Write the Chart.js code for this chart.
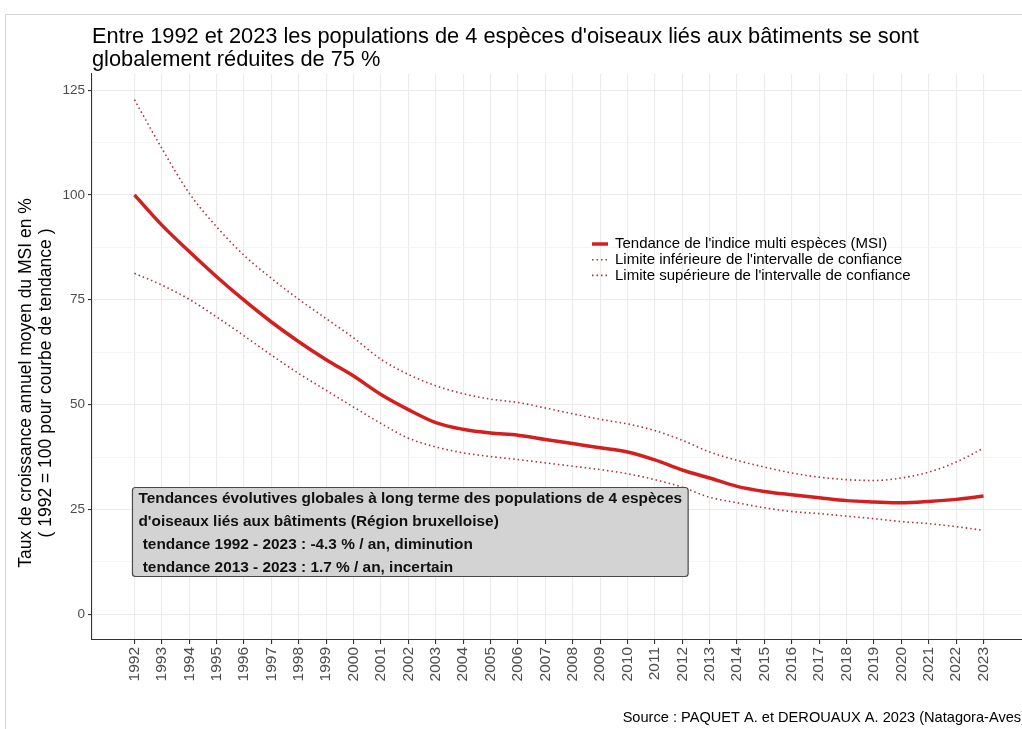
<!DOCTYPE html>
<html>
<head>
<meta charset="utf-8">
<script src="https://cdn.jsdelivr.net/npm/chart.js@4.4.1/dist/chart.umd.min.js"></script>
<style>
  html, body { margin: 0; padding: 0; background: #fff; overflow: hidden; width: 1022px; height: 729px; }
  #wrap { position: relative; width: 1026px; height: 729px; }
  #frame { position: absolute; left: 5px; top: 14px; width: 1040px; height: 740px;
           border-top: 1px solid #d9d9d9; border-left: 1px solid #d9d9d9; }
  #c { position: absolute; left: 0; top: 0; }
</style>
</head>
<body>
<div id="wrap"><div id="frame"></div><canvas id="c" width="1026" height="729"></canvas></div>
<script>
// Years of the multi-species index (MSI) for building-nesting birds, Brussels region
const years = [1992, 1993, 1994, 1995, 1996, 1997, 1998, 1999, 2000, 2001, 2002, 2003, 2004, 2005, 2006, 2007,
               2008, 2009, 2010, 2011, 2012, 2013, 2014, 2015, 2016, 2017, 2018, 2019, 2020, 2021, 2022, 2023];

// Trend of the multi-species index (1992 = 100)
const msiTrend = [100.0, 92.8, 86.5, 80.5, 74.9, 69.7, 65.0, 60.7, 56.8, 52.4, 48.8, 45.7, 44.1, 43.2, 42.7, 41.7,
                  40.7, 39.7, 38.7, 36.8, 34.4, 32.5, 30.5, 29.3, 28.5, 27.8, 27.1, 26.8, 26.6, 26.9, 27.4, 28.2];

// Lower bound of the confidence interval
const ciLower = [81.3, 78.5, 75.1, 70.9, 66.4, 61.8, 57.4, 53.4, 49.4, 45.5, 42.0, 39.9, 38.5, 37.6, 36.9, 36.1,
                 35.3, 34.5, 33.5, 32.1, 30.3, 27.9, 26.6, 25.4, 24.5, 24.0, 23.4, 22.8, 22.1, 21.6, 20.9, 20.0];

// Upper bound of the confidence interval
const ciUpper = [122.7, 111.1, 100.4, 92.4, 85.6, 80.1, 75.1, 70.5, 65.9, 60.8, 57.2, 54.5, 52.6, 51.3, 50.5, 49.2,
                 47.8, 46.5, 45.4, 43.8, 41.5, 38.7, 36.7, 35.1, 33.7, 32.7, 32.1, 31.9, 32.5, 33.9, 36.3, 39.6];

// Y axis labelled ticks
const yTickLabels = [0, 25, 50, 75, 100, 125];

const titleLines = [
  "Entre 1992 et 2023 les populations de 4 espèces d'oiseaux liés aux bâtiments se sont",
  "globalement réduites de 75 %"
];
const yTitleLines = [
  "Taux de croissance annuel moyen du MSI en %",
  "( 1992 = 100 pour courbe de tendance )"
];
const seriesNames = [
  "Tendance de l'indice multi espèces (MSI)",
  "Limite inférieure de l'intervalle de confiance",
  "Limite supérieure de l'intervalle de confiance"
];
const summaryLines = [
  "Tendances évolutives globales à long terme des populations de 4 espèces",
  "d'oiseaux liés aux bâtiments (Région bruxelloise)",
  " tendance 1992 - 2023 : -4.3 % / an, diminution",
  " tendance 2013 - 2023 : 1.7 % / an, incertain"
];
const sourceText = "Source : PAQUET A. et DEROUAUX A. 2023 (Natagora-Aves)";

const toPoints = vals => years.map((yr, i) => ({ x: yr, y: vals[i] }));

const RED = '#d41f1f';
const DOT_RED = '#b0303a';
const FONT = "'Liberation Sans', Arial, sans-serif";

// Y range with ggplot-like expansion around [0, max]
const yMaxData = Math.max(...ciUpper);
const yPad = yMaxData * 0.05;
const xPad = (years[years.length - 1] - years[0]) * 0.05;

// Minor gridlines halfway between labelled ticks
const yGridValues = [];
yTickLabels.forEach((v, i) => {
  yGridValues.push(v);
  if (i < yTickLabels.length - 1) yGridValues.push((v + yTickLabels[i + 1]) / 2);
});
const isMajor = v => yTickLabels.includes(v);

const textPlugin = {
  id: 'chartText',
  afterDatasetsDraw(chart) {
    // Summary label box anchored at the first year
    const { ctx, scales: { x, y } } = chart;
    ctx.save();
    ctx.font = `bold 15.4px ${FONT}`;
    const w = Math.max(...summaryLines.map(s => ctx.measureText(s).width)) + 12;
    const lineH = 23;
    const h = 89;
    const left = x.getPixelForValue(years[0]) - 2;
    const cy = y.getPixelForValue(20);
    const top = Math.round(cy - h / 2) + 1.5;
    const r = 3;
    ctx.beginPath();
    ctx.moveTo(left + r, top);
    ctx.lineTo(left + w - r, top);
    ctx.quadraticCurveTo(left + w, top, left + w, top + r);
    ctx.lineTo(left + w, top + h - r);
    ctx.quadraticCurveTo(left + w, top + h, left + w - r, top + h);
    ctx.lineTo(left + r, top + h);
    ctx.quadraticCurveTo(left, top + h, left, top + h - r);
    ctx.lineTo(left, top + r);
    ctx.quadraticCurveTo(left, top, left + r, top);
    ctx.closePath();
    ctx.fillStyle = '#d3d3d3';
    ctx.fill();
    ctx.lineWidth = 1.2;
    ctx.strokeStyle = '#4a4a4a';
    ctx.stroke();
    ctx.fillStyle = '#111';
    ctx.textBaseline = 'middle';
    ctx.textAlign = 'left';
    summaryLines.forEach((s, i) => ctx.fillText(s, left + 6, top + 11 + i * lineH));
    ctx.restore();
  },
  afterDraw(chart) {
    const { ctx, chartArea } = chart;
    ctx.save();
    // Title
    ctx.fillStyle = '#000';
    ctx.font = `21.8px ${FONT}`;
    ctx.textAlign = 'left';
    ctx.textBaseline = 'middle';
    titleLines.forEach((s, i) => ctx.fillText(s, chartArea.left, 37 + i * 23));

    // Y axis title
    ctx.save();
    ctx.translate(0, (chartArea.top + chartArea.bottom) / 2 + 26);
    ctx.rotate(-Math.PI / 2);
    ctx.font = `17.5px ${FONT}`;
    ctx.textAlign = 'center';
    yTitleLines.forEach((s, i) => ctx.fillText(s, 0, 26 + i * 20));
    ctx.restore();

    // Legend
    const lx = chartArea.left + 500;
    const ly = chartArea.top + 170;
    ctx.font = `15px ${FONT}`;
    chart.data.datasets.forEach((ds, i) => {
      const yy = ly + i * 15.7;
      ctx.save();
      ctx.strokeStyle = ds.borderColor;
      ctx.lineWidth = ds.borderWidth;
      ctx.setLineDash(ds.borderDash || []);
      ctx.lineCap = ds.borderCapStyle || 'butt';
      ctx.beginPath();
      ctx.moveTo(lx, yy);
      ctx.lineTo(lx + 16, yy);
      ctx.stroke();
      ctx.restore();
      ctx.fillStyle = '#000';
      ctx.fillText(ds.label, lx + 23, yy);
    });

    // Source caption
    ctx.font = `14.6px ${FONT}`;
    ctx.textAlign = 'right';
    ctx.fillText(sourceText, chartArea.right, 717.5);
    ctx.restore();
  }
};

new Chart(document.getElementById('c'), {
  type: 'line',
  data: {
    datasets: [
      { label: seriesNames[0], data: toPoints(msiTrend), borderColor: RED, borderWidth: 3.5,
        pointRadius: 0, cubicInterpolationMode: 'monotone', order: 0 },
      { label: seriesNames[1], data: toPoints(ciLower), borderColor: DOT_RED, borderWidth: 1.6,
        borderDash: [1.5, 3], pointRadius: 0, cubicInterpolationMode: 'monotone', order: 1 },
      { label: seriesNames[2], data: toPoints(ciUpper), borderColor: DOT_RED, borderWidth: 1.6,
        borderDash: [1.5, 3], pointRadius: 0, cubicInterpolationMode: 'monotone', order: 2 }
    ]
  },
  options: {
    responsive: false,
    animation: false,
    devicePixelRatio: 1,
    layout: { padding: { top: 74, left: 0, right: 0, bottom: 0 } },
    plugins: { legend: { display: false }, tooltip: { enabled: false }, title: { display: false } },
    scales: {
      x: {
        type: 'linear',
        min: years[0] - xPad,
        max: years[years.length - 1] + xPad,
        afterBuildTicks: s => { s.ticks = years.map(v => ({ value: v })); },
        afterFit: s => { s.height = 89; },
        border: { display: true, color: '#333', width: 1.1 },
        grid: { color: '#ebebeb', lineWidth: 1.1, drawTicks: true, tickLength: 4, tickColor: '#333' },
        ticks: {
          autoSkip: false, minRotation: 90, maxRotation: 90, padding: 3,
          color: '#4d4d4d', font: { family: FONT, size: 15.5 },
          callback: v => String(v)
        }
      },
      y: {
        min: -yPad,
        max: yMaxData + yPad,
        afterBuildTicks: s => { s.ticks = yGridValues.map(v => ({ value: v })); },
        afterFit: s => { s.width = 92; },
        border: { display: true, color: '#333', width: 1.1 },
        grid: {
          color: c => isMajor(c.tick.value) ? '#ebebeb' : '#f2f2f2',
          lineWidth: c => isMajor(c.tick.value) ? 1.1 : 0.8,
          drawTicks: true, tickLength: 4,
          tickColor: c => isMajor(c.tick.value) ? '#333' : 'rgba(0,0,0,0)'
        },
        ticks: {
          autoSkip: false, padding: 3, color: '#4d4d4d', font: { family: FONT, size: 13.5 },
          callback: v => isMajor(v) ? String(v) : ''
        }
      }
    }
  },
  plugins: [textPlugin]
});
</script>
</body>
</html>
